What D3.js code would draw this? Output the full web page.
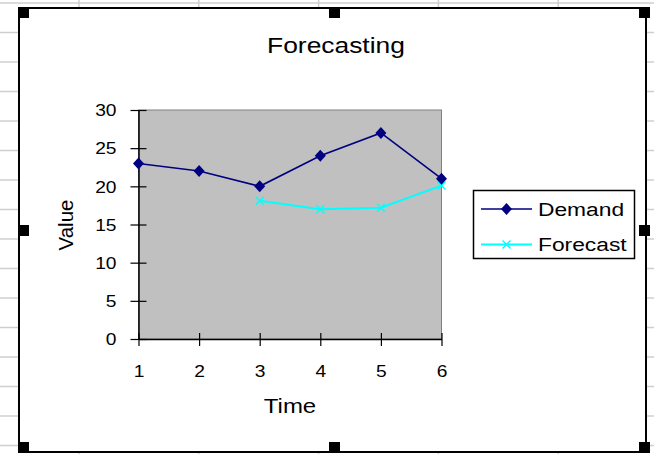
<!DOCTYPE html>
<html>
<head>
<meta charset="utf-8">
<script src="https://cdn.jsdelivr.net/npm/d3@7"></script>
<style>
  html, body { margin: 0; padding: 0; background: #fff; }
  svg { display: block; }
  text { font-family: "Liberation Sans", Arial, sans-serif; fill: #000; }
</style>
</head>
<body>
<svg id="chart" width="654" height="454"></svg>
<script>
// ---- data ----
const categories = [1, 2, 3, 4, 5, 6];
const demand = [23, 22, 20, 24, 27, 21];
const forecast = [null, null, 18.1, 17.0, 17.2, 20.1];
const yTicks = [0, 5, 10, 15, 20, 25, 30];
const seriesNames = ["Demand", "Forecast"];
const titleText = "Forecasting";
const xTitle = "Time";
const yTitle = "Value";

// ---- drawing ----
const SX = 1.2; // horizontal glyph stretch seen in the reference
const svg = d3.select("#chart");

// spreadsheet grid behind the chart
const gridG = svg.append("g").attr("stroke", "#cfcfcf").attr("stroke-width", 1.5);
d3.range(3, 454, 29.5).forEach(yy => {
  gridG.append("line").attr("x1", 0).attr("x2", 654).attr("y1", yy).attr("y2", yy);
});
d3.range(79, 654, 119.8).forEach(xx => {
  gridG.append("line").attr("x1", xx).attr("x2", xx).attr("y1", 0).attr("y2", 454);
});

// chart area
svg.append("rect")
  .attr("x", 19).attr("y", 8).attr("width", 627).attr("height", 444)
  .attr("fill", "#fff").attr("stroke", "#000").attr("stroke-width", 2);

// scales
const x = d3.scaleLinear().domain([d3.min(categories), d3.max(categories)]).range([138.5, 441.5]);
const y = d3.scaleLinear().domain([0, 30]).range([339, 110]);

// plot area
svg.append("rect")
  .attr("x", x.range()[0]).attr("y", y.range()[1])
  .attr("width", x.range()[1] - x.range()[0]).attr("height", y.range()[0] - y.range()[1])
  .attr("fill", "#c0c0c0").attr("stroke", "#808080").attr("stroke-width", 1);

// y axis
const yAxisG = svg.append("g")
  .attr("transform", `translate(${x.range()[0]},0)`)
  .call(d3.axisLeft(y).tickValues(yTicks).tickSizeInner(8).tickSizeOuter(0));
yAxisG.attr("font-family", null).attr("font-size", null);
yAxisG.select(".domain").attr("stroke", "#000").attr("stroke-width", 1.5);
yAxisG.selectAll(".tick line").attr("x1", 8).attr("stroke", "#000").attr("stroke-width", 1.2);
yAxisG.selectAll(".tick text")
  .attr("x", null).attr("dy", "0.36em")
  .attr("text-anchor", "end")
  .attr("font-size", 16)
  .attr("transform", `translate(-22,0) scale(${SX},1)`);

// x axis
const xAxisG = svg.append("g")
  .attr("transform", `translate(0,${y.range()[0]})`)
  .call(d3.axisBottom(x).tickValues(categories).tickSizeInner(7).tickSizeOuter(0).tickFormat(d3.format("d")));
xAxisG.attr("font-family", null).attr("font-size", null);
xAxisG.select(".domain").attr("stroke", "#000").attr("stroke-width", 1.5);
xAxisG.selectAll(".tick line").attr("y1", -6).attr("stroke", "#000").attr("stroke-width", 1.2);
xAxisG.selectAll(".tick text")
  .attr("y", null).attr("dy", null)
  .attr("text-anchor", "middle")
  .attr("font-size", 16)
  .attr("transform", `translate(0,38) scale(${SX},1)`);

// series
const line = d3.line()
  .defined(d => d.v != null)
  .x(d => x(d.c))
  .y(d => y(d.v));

const demandData = categories.map((c, i) => ({ c, v: demand[i] }));
const forecastData = categories.map((c, i) => ({ c, v: forecast[i] }));

const diamond = "M0,-6L5.5,0L0,6L-5.5,0Z";
const cross = "M-4,-4L4,4M-4,4L4,-4";

// forecast
svg.append("path").datum(forecastData)
  .attr("d", line).attr("fill", "none").attr("stroke", "#00ffff").attr("stroke-width", 2);
svg.append("g").selectAll("path")
  .data(forecastData.filter(d => d.v != null))
  .join("path")
  .attr("d", cross)
  .attr("transform", d => `translate(${x(d.c)},${y(d.v)})`)
  .attr("fill", "none").attr("stroke", "#00ffff").attr("stroke-width", 1.5);

// demand
svg.append("path").datum(demandData)
  .attr("d", line).attr("fill", "none").attr("stroke", "#000080").attr("stroke-width", 1.6);
svg.append("g").selectAll("path")
  .data(demandData)
  .join("path")
  .attr("d", diamond)
  .attr("transform", d => `translate(${x(d.c)},${y(d.v)})`)
  .attr("fill", "#000080");

// title
svg.append("text")
  .attr("text-anchor", "middle").attr("font-size", 22)
  .attr("transform", `translate(336,53) scale(${SX},1)`)
  .text(titleText);

// axis titles
svg.append("text")
  .attr("text-anchor", "middle").attr("font-size", 20)
  .attr("transform", `translate(${(x.range()[0] + x.range()[1]) / 2},413) scale(${SX},1)`)
  .text(xTitle);
svg.append("text")
  .attr("text-anchor", "middle").attr("font-size", 20.5)
  .attr("transform", "translate(73,225) rotate(-90)")
  .text(yTitle);

// legend
const legend = svg.append("g");
legend.append("rect")
  .attr("x", 473.5).attr("y", 190.5).attr("width", 161).attr("height", 68)
  .attr("fill", "#fff").attr("stroke", "#000").attr("stroke-width", 1.5);
const legendRows = [
  { name: seriesNames[0], color: "#000080", width: 1.6, marker: diamond, filled: true, yy: 209 },
  { name: seriesNames[1], color: "#00ffff", width: 2, marker: cross, filled: false, yy: 244.5 }
];
legendRows.forEach(r => {
  legend.append("line")
    .attr("x1", 481).attr("x2", 532).attr("y1", r.yy).attr("y2", r.yy)
    .attr("stroke", r.color).attr("stroke-width", r.width);
  legend.append("path")
    .attr("d", r.marker)
    .attr("transform", `translate(506.5,${r.yy})`)
    .attr("fill", r.filled ? r.color : "none")
    .attr("stroke", r.filled ? "none" : r.color)
    .attr("stroke-width", 1.5);
  legend.append("text")
    .attr("font-size", 19)
    .attr("transform", `translate(538,${r.yy + 6.5}) scale(${SX},1)`)
    .text(r.name);
});

// selection handles
const hs = 11;
const handles = [
  [18, 7], [329, 7], [639, 7],
  [18, 225], [639, 225],
  [18, 442], [329, 442], [639, 442]
];
svg.append("g").selectAll("rect")
  .data(handles)
  .join("rect")
  .attr("x", d => d[0]).attr("y", d => d[1])
  .attr("width", hs).attr("height", hs)
  .attr("fill", "#000");
</script>
</body>
</html>
